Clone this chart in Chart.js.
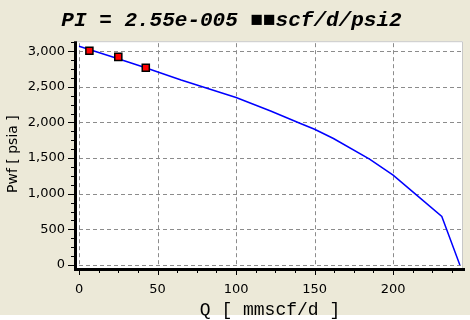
<!DOCTYPE html>
<html>
<head>
<meta charset="utf-8">
<script src="https://cdn.jsdelivr.net/npm/chart.js@4/dist/chart.umd.min.js"></script>
<style>
  html, body { margin: 0; padding: 0; background: #ECE9D8; }
  #wrap { width: 470px; height: 320px; }
</style>
</head>
<body>
<div id="wrap"><canvas id="ipr" width="470" height="320"></canvas></div>
<script>
// Inflow performance curve: rate vs flowing bottom-hole pressure
const qCurve   = [0, 20, 40, 65, 100, 122, 141, 150, 162, 185, 200, 215, 231, 242.5];
const pwfCurve = [3070, 2930, 2785, 2595, 2350, 2160, 1985, 1905, 1775, 1485, 1260, 980, 680, 0];

// Well test points
const qTest   = [6.6, 25, 42.5];
const pwfTest = [3005, 2920, 2768];

// Axis ticks
const xTicks = [0, 50, 100, 150, 200];
const yTicks = [0, 500, 1000, 1500, 2000, 2500, 3000];
const xMinorStep = 12.5;
const yMinorStep = 125;

const titleText = 'PI = 2.55e-005 \u25A0\u25A0scf/d/psi2';
const xTitle = 'Q [ mmscf/d ]';
const yTitle = 'Pwf [ psia ]';

const toXY = (xs, ys) => xs.map((x, i) => ({ x: x, y: ys[i] }));

// Frame: beige page, white plot panel, dashed grid, heavy black axes with major/minor ticks
const framePlugin = {
  id: 'frame',
  beforeDraw(chart) {
    const { ctx, chartArea: a } = chart;
    ctx.save();
    ctx.fillStyle = '#ECE9D8';
    ctx.fillRect(0, 0, chart.width, chart.height);
    ctx.fillStyle = '#FFFFFF';
    ctx.fillRect(0, 315, chart.width, chart.height - 315);
    ctx.fillRect(a.left, a.top, a.right - a.left, a.bottom - a.top + 1);
    ctx.strokeStyle = '#C8C8C8';
    ctx.lineWidth = 1;
    ctx.beginPath();
    ctx.moveTo(a.left, a.top + 0.5);
    ctx.lineTo(a.right - 0.5, a.top + 0.5);
    ctx.lineTo(a.right - 0.5, a.bottom + 1);
    ctx.stroke();
    ctx.restore();
  },
  beforeDatasetsDraw(chart) {
    const { ctx, chartArea: a, scales } = chart;
    ctx.save();
    ctx.strokeStyle = '#8C8C8C';
    ctx.lineWidth = 1;
    ctx.setLineDash([4, 3]);
    ctx.beginPath();
    scales.y.ticks.forEach(t => {
      const py = Math.round(scales.y.getPixelForValue(t.value)) + 0.5;
      ctx.moveTo(a.left + 2, py);
      ctx.lineTo(a.right - 2, py);
    });
    scales.x.ticks.forEach(t => {
      const px = Math.round(scales.x.getPixelForValue(t.value)) + 0.5;
      ctx.moveTo(px, a.top + 2);
      ctx.lineTo(px, a.bottom);
    });
    ctx.stroke();
    ctx.restore();
  },
  afterDraw(chart) {
    const { ctx, chartArea: a, scales } = chart;
    const xs = scales.x, ys = scales.y;
    const axX = a.left - 1.5;      // centre of vertical axis bar
    const axY = a.bottom + 2.5;    // centre of horizontal axis bar
    ctx.save();
    ctx.strokeStyle = '#000000';
    ctx.lineWidth = 3;
    ctx.beginPath();
    ctx.moveTo(axX, a.top);
    ctx.lineTo(axX, axY + 1.5);
    ctx.moveTo(axX - 1.5, axY);
    ctx.lineTo(a.right + 2, axY);
    ctx.stroke();

    ctx.lineWidth = 1;
    ctx.beginPath();
    for (let v = 0; v <= ys.max; v += yMinorStep) {
      const py = Math.round(ys.getPixelForValue(v)) + 0.5;
      const major = v % 500 === 0;
      ctx.moveTo(axX - 1.5 - (major ? 6 : 3), py);
      ctx.lineTo(axX - 1.5, py);
    }
    for (let v = 0; v <= xs.max; v += xMinorStep) {
      const px = Math.round(xs.getPixelForValue(v)) + 0.5;
      const major = v % 50 === 0;
      ctx.moveTo(px, axY + 1.5);
      ctx.lineTo(px, axY + 1.5 + (major ? 4 : 2));
    }
    ctx.stroke();
    ctx.restore();
  }
};

const hiddenGrid = { display: true, drawOnChartArea: false, drawTicks: false, color: 'rgba(0,0,0,0)' };

new Chart(document.getElementById('ipr'), {
  type: 'line',
  data: {
    datasets: [
      {
        label: 'Test points',
        data: toXY(qTest, pwfTest),
        showLine: false,
        pointStyle: 'rect',
        pointRadius: 5,
        pointBackgroundColor: '#FF0000',
        pointBorderColor: '#000000',
        pointBorderWidth: 1.5
      },
      {
        label: 'IPR',
        data: toXY(qCurve, pwfCurve),
        borderColor: '#0000FF',
        borderWidth: 1.5,
        pointRadius: 0,
        tension: 0,
        fill: false
      }
    ]
  },
  options: {
    responsive: false,
    animation: false,
    devicePixelRatio: 1,
    layout: { padding: { left: 0, right: 7, top: 0, bottom: 0 } },
    plugins: {
      legend: { display: false },
      tooltip: { enabled: false },
      title: {
        display: true,
        text: titleText,
        color: '#000000',
        font: { family: '"Liberation Mono", "DejaVu Sans Mono", monospace', size: 21, style: 'italic', weight: 'bold' },
        padding: { top: 8, bottom: 8 }
      }
    },
    scales: {
      x: {
        type: 'linear',
        min: -1.3,
        max: 244.5,
        afterBuildTicks: s => { s.ticks = xTicks.map(v => ({ value: v })); },
        afterFit: s => { s.height = 53; },
        grid: hiddenGrid,
        border: { display: false },
        ticks: {
          color: '#000000',
          padding: 15,
          maxRotation: 0,
          font: { family: '"DejaVu Sans", sans-serif', size: 13 },
          callback: v => String(v)
        },
        title: {
          display: true,
          text: xTitle,
          color: '#000000',
          padding: { top: 0, bottom: -1 },
          font: { family: '"Liberation Mono", "DejaVu Sans Mono", monospace', size: 18 }
        }
      },
      y: {
        type: 'linear',
        min: -28,
        max: 3140,
        afterBuildTicks: s => { s.ticks = yTicks.map(v => ({ value: v })); },
        afterFit: s => { s.width = 77; },
        grid: hiddenGrid,
        border: { display: false },
        ticks: {
          color: '#000000',
          padding: 12,
          font: { family: '"DejaVu Sans", sans-serif', size: 13 },
          callback: v => v.toLocaleString('en-US')
        },
        title: {
          display: true,
          text: yTitle,
          color: '#000000',
          padding: { top: 5, bottom: 0 },
          font: { family: '"DejaVu Sans", sans-serif', size: 14 }
        }
      }
    }
  },
  plugins: [framePlugin]
});
</script>
</body>
</html>
